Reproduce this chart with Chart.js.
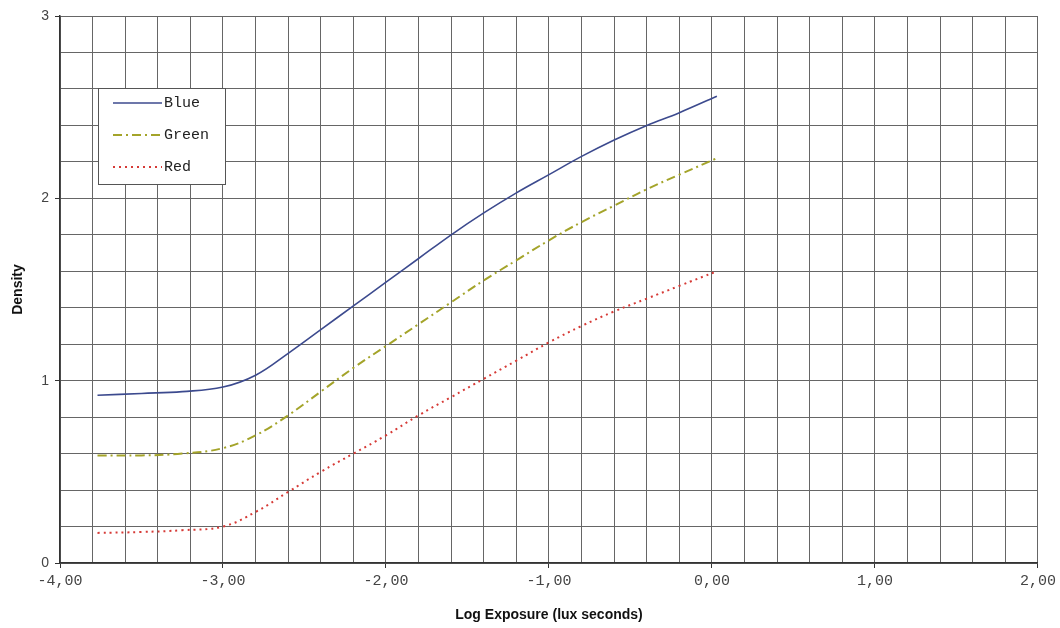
<!DOCTYPE html>
<html>
<head>
  <title>Density curves</title>
  <style>
    body { margin: 0; padding: 0; background: #fff; }
    #wrap { width: 1060px; height: 628px; position: relative; }
  </style>
</head>
<body>
<div id="wrap"><canvas id="chart"></canvas></div>

<script src="https://cdn.jsdelivr.net/npm/chart.js"></script>
<script>
  // log exposure (x) and density values
  const logExposure = [-3.77, -3.5, -3.25, -3.0, -2.8, -2.6, -2.4, -2.2, -2.0, -1.8, -1.6, -1.4, -1.2, -1.0, -0.8, -0.6, -0.4, -0.2, 0.03];
  const blue  = [0.92, 0.93, 0.94, 0.965, 1.03, 1.15, 1.28, 1.41, 1.54, 1.67, 1.80, 1.92, 2.03, 2.13, 2.23, 2.32, 2.40, 2.47, 2.56];
  const green = [0.59, 0.59, 0.60, 0.63, 0.70, 0.81, 0.94, 1.07, 1.19, 1.31, 1.43, 1.55, 1.66, 1.77, 1.87, 1.96, 2.05, 2.13, 2.22];
  const red   = [0.165, 0.17, 0.18, 0.20, 0.28, 0.39, 0.50, 0.60, 0.70, 0.81, 0.91, 1.01, 1.11, 1.21, 1.30, 1.38, 1.45, 1.52, 1.60];
  const seriesNames = ['Blue', 'Green', 'Red'];

  const xMin = -4, xMax = 2, yMin = 0, yMax = 3;

  function pts(ys) {
    return logExposure.map((x, i) => ({ x: x, y: ys[i] }));
  }
  function isWhole(v) {
    return Math.abs(v - Math.round(v)) < 1e-6;
  }
  // tick marks only where there is a label
  function tickCol(c) {
    return c.tick && isWhole(c.tick.value) ? '#333' : 'rgba(0,0,0,0)';
  }

  // legend box drawn inside the plot
  const boxLegend = {
    id: 'boxLegend',
    afterDraw(chart) {
      const ctx = chart.ctx;
      const x = 98, y = 88, w = 127, h = 96;
      ctx.save();
      ctx.fillStyle = '#fff';
      ctx.fillRect(x, y, w, h);
      ctx.strokeStyle = '#555';
      ctx.lineWidth = 1;
      ctx.strokeRect(x + 0.5, y + 0.5, w, h);
      ctx.font = '15px "Liberation Mono", monospace';
      ctx.textBaseline = 'middle';
      chart.data.datasets.forEach((ds, i) => {
        const ly = y + 15 + i * 32;
        ctx.strokeStyle = ds.borderColor;
        ctx.lineWidth = ds.borderWidth;
        ctx.setLineDash(ds.borderDash || []);
        ctx.beginPath();
        ctx.moveTo(x + 15, ly);
        ctx.lineTo(x + 64, ly);
        ctx.stroke();
        ctx.setLineDash([]);
        ctx.fillStyle = '#222';
        ctx.fillText(ds.label, x + 66, ly);
      });
      ctx.restore();
    }
  };

  new Chart(document.getElementById('chart'), {
    type: 'line',
    data: {
      datasets: [
        { label: seriesNames[0], data: pts(blue), borderColor: '#3c4a8e', borderWidth: 1.6, pointRadius: 0, tension: 0.4 },
        { label: seriesNames[1], data: pts(green), borderColor: '#a4a42a', borderWidth: 2, borderDash: [9, 4, 2, 4], pointRadius: 0, tension: 0.4 },
        { label: seriesNames[2], data: pts(red), borderColor: '#d63a36', borderWidth: 2, borderDash: [2, 4], pointRadius: 0, tension: 0.4 }
      ]
    },
    options: {
      responsive: true,
      maintainAspectRatio: false,
      animation: false,
      layout: { padding: { top: 16, right: 20, left: 10, bottom: 0 } },
      plugins: {
        legend: { display: false },
        tooltip: { enabled: false }
      },
      scales: {
        x: {
          type: 'linear',
          min: xMin,
          max: xMax,
          afterFit(scale) { scale.height = 65; },
          ticks: {
            stepSize: 0.2,
            autoSkip: false,
            maxRotation: 0,
            color: '#444',
            font: { family: '"Liberation Mono", monospace', size: 15 },
            padding: 4,
            callback: v => isWhole(v) ? v.toFixed(2).replace('.', ',') : ''
          },
          grid: { color: '#666', lineWidth: 1, tickLength: 5, tickColor: tickCol },
          border: { color: '#333', width: 1.5 },
          title: {
            display: true,
            text: 'Log Exposure (lux seconds)',
            color: '#111',
            font: { family: '"Liberation Sans", Arial, sans-serif', size: 14, weight: 'bold' },
            padding: { top: 10 }
          }
        },
        y: {
          type: 'linear',
          min: yMin,
          max: yMax,
          afterFit(scale) { scale.width = 50; },
          ticks: {
            stepSize: 0.2,
            autoSkip: false,
            color: '#444',
            font: { family: '"Liberation Sans", Arial, sans-serif', size: 14 },
            padding: 6,
            callback: v => isWhole(v) ? String(Math.round(v)) : ''
          },
          grid: { color: '#666', lineWidth: 1, tickLength: 5, tickColor: tickCol },
          border: { color: '#333', width: 1.5 },
          title: {
            display: true,
            text: 'Density',
            color: '#111',
            font: { family: '"Liberation Sans", Arial, sans-serif', size: 14, weight: 'bold' },
            padding: { top: 0, bottom: 0 }
          }
        }
      }
    },
    plugins: [boxLegend]
  });
</script>
</body>
</html>
